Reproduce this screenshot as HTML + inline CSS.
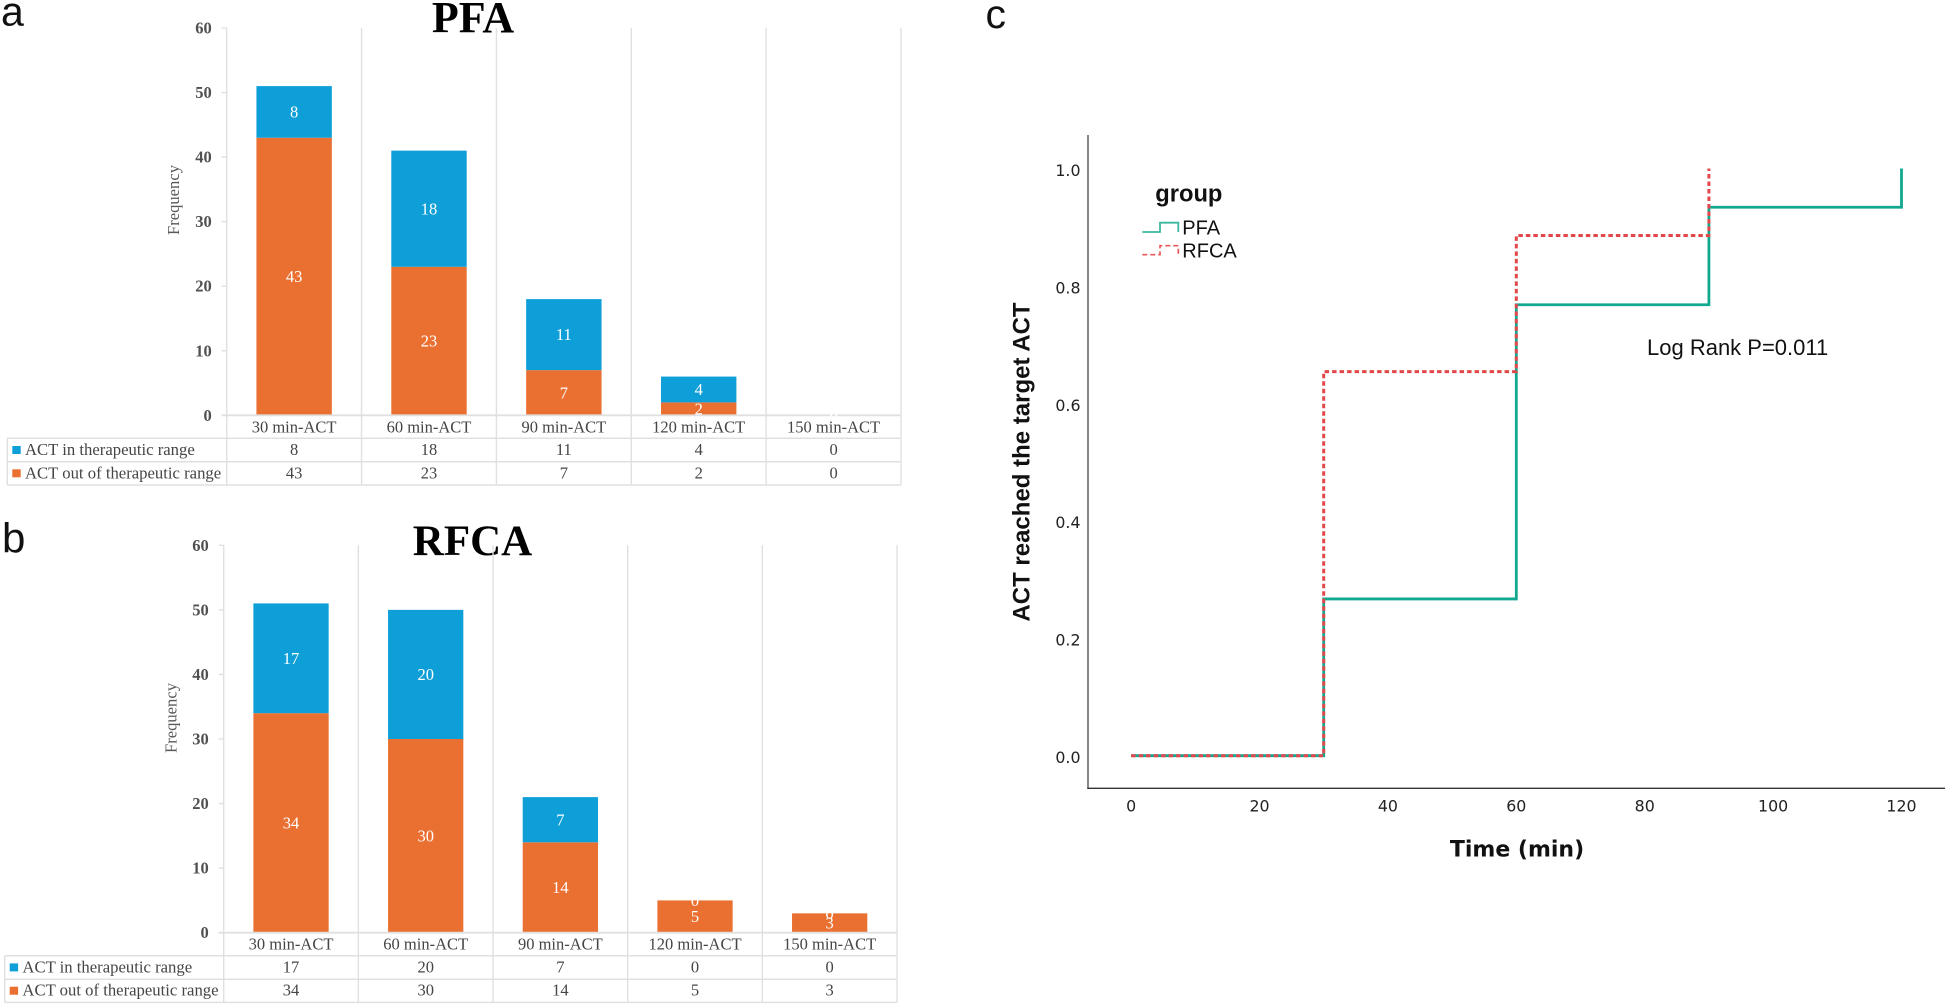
<!DOCTYPE html>
<html lang="en">
<head>
<meta charset="utf-8">
<title>ACT frequency by group and time to target ACT</title>
<style>
html,body{margin:0;padding:0;background:#fff;}
svg{display:block;}
text{font-family:"Liberation Serif","DejaVu Serif",serif;}
.sans{font-family:"Liberation Sans",Arial,sans-serif;}
.dv{font-family:"DejaVu Sans",sans-serif;}
</style>
</head>
<body>
<svg id="figure" xmlns="http://www.w3.org/2000/svg" width="1948" height="1006" viewBox="0 0 1948 1006">
  <text class="sans" x="1" y="25.5" font-size="41" fill="#111">a</text>
  <text class="sans" x="2" y="552.5" font-size="42" fill="#111">b</text>
  <text class="sans" x="985.5" y="28" font-size="41" fill="#111">c</text>
  <text x="473" y="32" font-size="44" font-weight="bold" text-anchor="middle" fill="#000">PFA</text>
  <text x="472.5" y="555" font-size="43" font-weight="bold" text-anchor="middle" fill="#000">RFCA</text>
  <g id="panel-a"></g>
  <g id="panel-b"></g>
  <g id="panel-c"></g>
</svg>
<script>
const categories = ["30 min-ACT", "60 min-ACT", "90 min-ACT", "120 min-ACT", "150 min-ACT"];
const seriesNames = ["ACT in therapeutic range", "ACT out of therapeutic range"];
const pfaInRange = [8, 18, 11, 4, 0];
const pfaOutOfRange = [43, 23, 7, 2, 0];
const rfcaInRange = [17, 20, 7, 0, 0];
const rfcaOutOfRange = [34, 30, 14, 5, 3];
const frequencyTicks = [0, 10, 20, 30, 40, 50, 60];

const timeTicks = [0, 20, 40, 60, 80, 100, 120];
const probabilityTicks = [0, 0.2, 0.4, 0.6, 0.8, 1];
const pfaTimes = [0, 30, 60, 90, 120];
const pfaReached = [0, 0.267, 0.768, 0.934, 1];
const rfcaTimes = [0, 30, 60, 90];
const rfcaReached = [0, 0.654, 0.886, 1];

const SVGNS = "http://www.w3.org/2000/svg";
const BLUE = "#0f9fd8", ORANGE = "#ea7032", GRID = "#e0e0e0", INK = "#454545";
const TEAL = "#10a98f", RED = "#e2474c";

function make(parent, tag, attrs, content) {
  const el = document.createElementNS(SVGNS, tag);
  for (const k in attrs) el.setAttribute(k, attrs[k]);
  if (content !== undefined) el.textContent = content;
  parent.appendChild(el);
  return el;
}

function drawBarPanel(root, L, R, top, zero, tableLeft, freqX, freqY, inRange, outRange) {
  const maxV = frequencyTicks[frequencyTicks.length - 1];
  const y = v => zero + (top - zero) * v / maxV;
  const colW = (R - L) / categories.length;
  const cx = i => L + colW * (i + 0.5);
  const barW = colW * 0.559;
  const row1 = zero + 23, row2 = zero + 46.5, row3 = zero + 69.7;

  // gridlines and table frame
  for (let i = 0; i <= categories.length; i++) {
    const x = L + colW * i;
    const g = make(root, "line", {x1: x, x2: x, y1: top, y2: row3, stroke: GRID, "stroke-width": 1.4});
    
    
  }
  [row1, row2, row3].forEach(ry => {
    const g = make(root, "line", {x1: tableLeft, x2: R, y1: ry, y2: ry, stroke: GRID, "stroke-width": 1.5});
    
    
  });
  const tl = make(root, "line", {x1: tableLeft, x2: tableLeft, y1: row1, y2: row3, stroke: GRID, "stroke-width": 1.4});
  
  

  // bars
  categories.forEach((c, i) => {
    const x = cx(i) - barW / 2;
    const out = outRange[i], inn = inRange[i];
    const o = make(root, "rect", {x: x, width: barW, y: y(out), height: zero - y(out), fill: ORANGE});
    
    
    const b = make(root, "rect", {x: x, width: barW, y: y(out + inn), height: y(out) - y(out + inn), fill: BLUE});
    
    
  });

  // axis line over the bars' foot
  const ax = make(root, "line", {x1: L - 5, x2: R, y1: zero, y2: zero, stroke: GRID, "stroke-width": 1.8});
  
  

  // bar value labels, white so zero-height labels vanish against the page
  categories.forEach((c, i) => {
    const out = outRange[i], inn = inRange[i];
    const t1 = make(root, "text", {x: cx(i), y: y(out / 2) + 5.6, "font-size": 16.5, fill: "#fff", "text-anchor": "middle"}, out);
    
    
    const t2 = make(root, "text", {x: cx(i), y: y(out + inn / 2) + 5.6, "font-size": 16.5, fill: "#fff", "text-anchor": "middle"}, inn);
    
    
  });

  // y axis ticks
  frequencyTicks.forEach(v => {
    const tk = make(root, "line", {x1: L - 5, x2: L, y1: y(v), y2: y(v), stroke: GRID, "stroke-width": 1.4});
    
    
    const lb = make(root, "text", {x: L - 15, y: y(v) + 5.5, "font-size": 16.5, "font-weight": "bold", fill: "#505050", "text-anchor": "end"}, v);
    
    
  });
  const yt = make(root, "text", {x: freqX, y: freqY, "font-size": 16.6, fill: "#595959", "text-anchor": "middle", transform: "rotate(-90 " + freqX + " " + freqY + ")"}, "Frequency");
  
  

  // category labels and table values
  categories.forEach((c, i) => {
    const t = make(root, "text", {x: cx(i), y: zero + 17, "font-size": 16.5, fill: INK, "text-anchor": "middle"}, c);
    
    
    const v1 = make(root, "text", {x: cx(i), y: zero + 39.7, "font-size": 16.5, fill: INK, "text-anchor": "middle"}, inRange[i]);
    
    
    const v2 = make(root, "text", {x: cx(i), y: zero + 63, "font-size": 16.5, fill: INK, "text-anchor": "middle"}, outRange[i]);
    
    
  });

  // legend keys inside the table
  const k1 = make(root, "rect", {x: tableLeft + 5, y: zero + 30.7, width: 8.4, height: 8, fill: BLUE});
  
  
  const n1 = make(root, "text", {x: tableLeft + 17.7, y: zero + 39.7, "font-size": 16.7, fill: INK}, seriesNames[0]);
  
  
  const k2 = make(root, "rect", {x: tableLeft + 5, y: zero + 54, width: 8.4, height: 8, fill: ORANGE});
  
  
  const n2 = make(root, "text", {x: tableLeft + 17.7, y: zero + 63, "font-size": 16.7, fill: INK}, seriesNames[1]);
  
  
}

drawBarPanel(document.getElementById("panel-a"), 226.7, 901, 28, 415.3, 7.3, 179, 200, pfaInRange, pfaOutOfRange);
drawBarPanel(document.getElementById("panel-b"), 223.7, 897, 545.3, 932.7, 4.7, 176.5, 718, rfcaInRange, rfcaOutOfRange);

function drawStepPanel(root) {
  const x = t => 1131.1 + (t - timeTicks[0]) * (1901.5 - 1131.1) / (timeTicks[timeTicks.length - 1] - timeTicks[0]);
  const y = p => 755.7 + (p - probabilityTicks[0]) * (168.5 - 755.7) / (probabilityTicks[probabilityTicks.length - 1] - probabilityTicks[0]);
  const stepPath = (ts, ps) => {
    let d = "M" + x(ts[0]) + " " + y(ps[0]);
    for (let i = 1; i < ts.length; i++) {
      d += "H" + x(ts[i]) + "V" + y(ps[i]);
    }
    return d;
  };

  const a1 = make(root, "line", {x1: 1088, x2: 1088, y1: 135, y2: 788.8, stroke: "#555", "stroke-width": 1.4});
  
  
  const a2 = make(root, "line", {x1: 1087.3, x2: 1945, y1: 788.3, y2: 788.3, stroke: "#333", "stroke-width": 1.3});
  
  

  timeTicks.forEach(t => {
    const l = make(root, "text", {class: "dv", x: x(t), y: 811.7, "font-size": 15.8, fill: "#222", "text-anchor": "middle"}, t);
    
    
  });
  probabilityTicks.forEach(p => {
    const l = make(root, "text", {class: "dv", x: 1080.5, y: y(p) + 7.4, "font-size": 15.8, fill: "#222", "text-anchor": "end"}, p.toFixed(1));
    
    
  });

  const xt = make(root, "text", {class: "dv", x: 1517, y: 856.5, "font-size": 22, "font-weight": "bold", fill: "#111", "text-anchor": "middle"}, "Time (min)");
  
  
  const yt = make(root, "text", {class: "sans", x: 1029.5, y: 462, "font-size": 24, "font-weight": "bold", fill: "#111", "text-anchor": "middle", transform: "rotate(-90 1029.5 462)"}, "ACT reached the target ACT");
  
  

  const pfa = make(root, "path", {d: stepPath(pfaTimes, pfaReached), fill: "none", stroke: TEAL, "stroke-width": 2.8});
  
  
  const rfca = make(root, "path", {d: stepPath(rfcaTimes, rfcaReached), fill: "none", stroke: RED, "stroke-width": 3, "stroke-dasharray": "4.5 3"});
  
  

  const lg = make(root, "text", {class: "sans", x: 1155.3, y: 201.7, "font-size": 23.7, "font-weight": "bold", fill: "#111"}, "group");
  
  
  const k1 = make(root, "path", {d: "M1142.3 232H1160V222.7H1178.3V232", fill: "none", stroke: "#3cb8a0", "stroke-width": 1.8});
  
  
  const n1 = make(root, "text", {class: "sans", x: 1182.3, y: 234.5, "font-size": 20, fill: "#111"}, "PFA");
  
  
  const k2 = make(root, "path", {d: "M1142.3 254.7H1160V245.7H1178.3V254.7", fill: "none", stroke: "#ea5a5a", "stroke-width": 1.7, "stroke-dasharray": "5 3"});
  
  
  const n2 = make(root, "text", {class: "sans", x: 1182.3, y: 257.4, "font-size": 20, fill: "#111"}, "RFCA");
  
  

  const lr = make(root, "text", {class: "sans", x: 1647, y: 355, "font-size": 22, fill: "#111"}, "Log Rank P=0.011");
  
  
}
drawStepPanel(document.getElementById("panel-c"));
</script>
</body>
</html>
